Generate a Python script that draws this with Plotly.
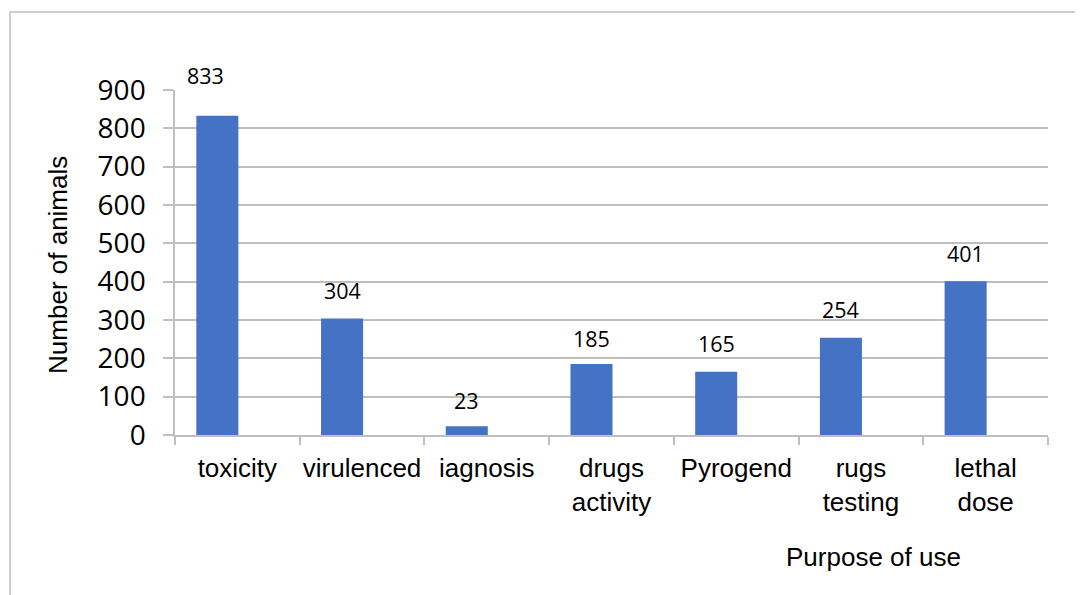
import plotly.graph_objects as go

categories = ["toxicity", "virulenced", "iagnosis", "drugs<br>activity", "Pyrogend", "rugs<br>testing", "lethal<br>dose"]
values = [833, 304, 23, 185, 165, 254, 401]
y_ticks = [0, 100, 200, 300, 400, 500, 600, 700, 800, 900]
label_dx = [-32, -20, -20, -20, -20, -20, -20]
label_dy = [40, 28, 26, 26, 28, 28, 28]

fig = go.Figure()
fig.add_trace(go.Bar(x=categories, y=values, marker=dict(color="#4472C4", line=dict(width=0)),
                     width=0.337, offset=-0.329))

for c, v, dx, dy in zip(categories, values, label_dx, label_dy):
    fig.add_annotation(x=c, y=v, text=str(v), showarrow=False, xshift=dx, yshift=dy,
                       font=dict(family="Open Sans", size=21.5, color="#000000"))

fig.add_annotation(xref="paper", yref="paper", x=0.8, y=-0.355, text="Purpose of use",
                   showarrow=False, xanchor="center", yanchor="middle",
                   font=dict(family="Liberation Sans", size=26, color="#000000"))

fig.add_annotation(xref="paper", yref="paper", x=-0.134, y=0.493, text="Number of animals",
                   showarrow=False, xanchor="center", yanchor="middle", textangle=-90,
                   font=dict(family="Liberation Sans", size=26, color="#000000"))

# outer chart frame
fig.add_shape(type="rect", xref="paper", yref="paper", x0=-0.189, x1=1.1, y0=-0.5, y1=1.226,
              line=dict(color="#BFBFBF", width=1.5), layer="below")

fig.update_layout(
    width=1083, height=595,
    margin=dict(l=167, r=43, t=82, b=168),
    plot_bgcolor="white", paper_bgcolor="white",
    showlegend=False,
    xaxis=dict(showgrid=False, showline=True, linecolor="#BFBFBF", linewidth=1.5, automargin=False,
               ticks="outside", tickson="boundaries", ticklen=8, tickcolor="#BFBFBF", tickwidth=1.5,
               tickangle=0, ticklabelstandoff=9,
               tickfont=dict(family="Liberation Sans", size=26, color="#000000")),
    yaxis=dict(range=[0, 900], tickvals=y_ticks, showgrid=True, gridcolor="#BFBFBF", gridwidth=1.5,
               showline=True, linecolor="#BFBFBF", linewidth=1.5, zeroline=False, automargin=False,
               ticks="outside", ticklen=10, tickcolor="#BFBFBF", tickwidth=1.5, ticklabelstandoff=12,
               tickfont=dict(family="Open Sans", size=28, color="#000000")),
)

fig.write_html("out.html")
